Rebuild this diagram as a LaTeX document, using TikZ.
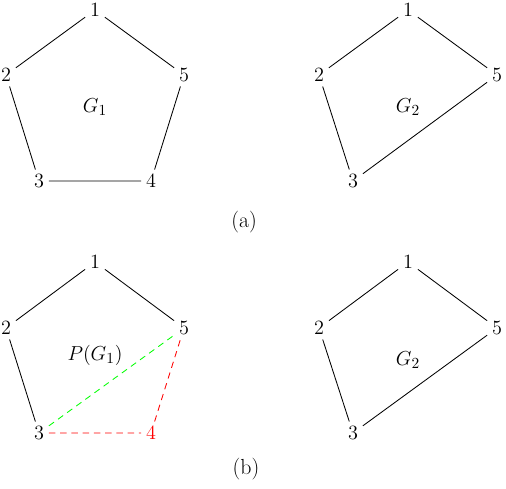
\documentclass[tikz,border=0pt]{standalone}
\begin{document}
\begin{tikzpicture}[x=0.025cm,y=-0.025cm,
  every node/.style={font=\fontsize{15.5}{18}\selectfont},
  vtx/.style={inner sep=0.3333em},
  edge/.style={black,line width=0.6pt},
  gedge/.style={green,line width=0.6pt,dash pattern=on 4.5pt off 3.5pt},
  redge/.style={red,line width=0.6pt,dash pattern=on 4.5pt off 3.5pt}]
\useasboundingbox (0,0) rectangle (506,488);
% (a) left G1
\node[vtx] (a1) at (95,10) {$1$};
\node[vtx] (a2) at (6,75) {$2$};
\node[vtx] (a5) at (184,75) {$5$};
\node[vtx] (a3) at (39,181) {$3$};
\node[vtx] (a4) at (151,181) {$4$};
\node (aG1) at (95,107) {$G_1$};
\draw[edge] (a1)--(a2) (a2)--(a3) (a3)--(a4) (a4)--(a5) (a5)--(a1);
% (a) right G2
\node[vtx] (b1) at (408,10) {$1$};
\node[vtx] (b2) at (319,75) {$2$};
\node[vtx] (b5) at (497,75) {$5$};
\node[vtx] (b3) at (353,181) {$3$};
\node (bG2) at (408,107) {$G_2$};
\draw[edge] (b1)--(b2) (b2)--(b3) (b3)--(b5) (b5)--(b1);
\node (capa) at (244,222) {(a)};
% (b) left P(G1)
\node[vtx] (c1) at (95,262) {$1$};
\node[vtx] (c2) at (6,328) {$2$};
\node[vtx] (c5) at (184,328) {$5$};
\node[vtx] (c3) at (39,433) {$3$};
\node[vtx,text=red] (c4) at (151,433) {$4$};
\node (cP) at (95,355) {$P(G_1)$};
\draw[edge] (c1)--(c2) (c2)--(c3) (c5)--(c1);
\draw[gedge] (c3)--(c5);
\draw[redge] (c3)--(c4) (c4)--(c5);
% (b) right G2
\node[vtx] (d1) at (408,262) {$1$};
\node[vtx] (d2) at (319,328) {$2$};
\node[vtx] (d5) at (497,328) {$5$};
\node[vtx] (d3) at (353,433) {$3$};
\node (dG2) at (408,360) {$G_2$};
\draw[edge] (d1)--(d2) (d2)--(d3) (d3)--(d5) (d5)--(d1);
\node (capb) at (246,469) {(b)};
\end{tikzpicture}
\end{document}
